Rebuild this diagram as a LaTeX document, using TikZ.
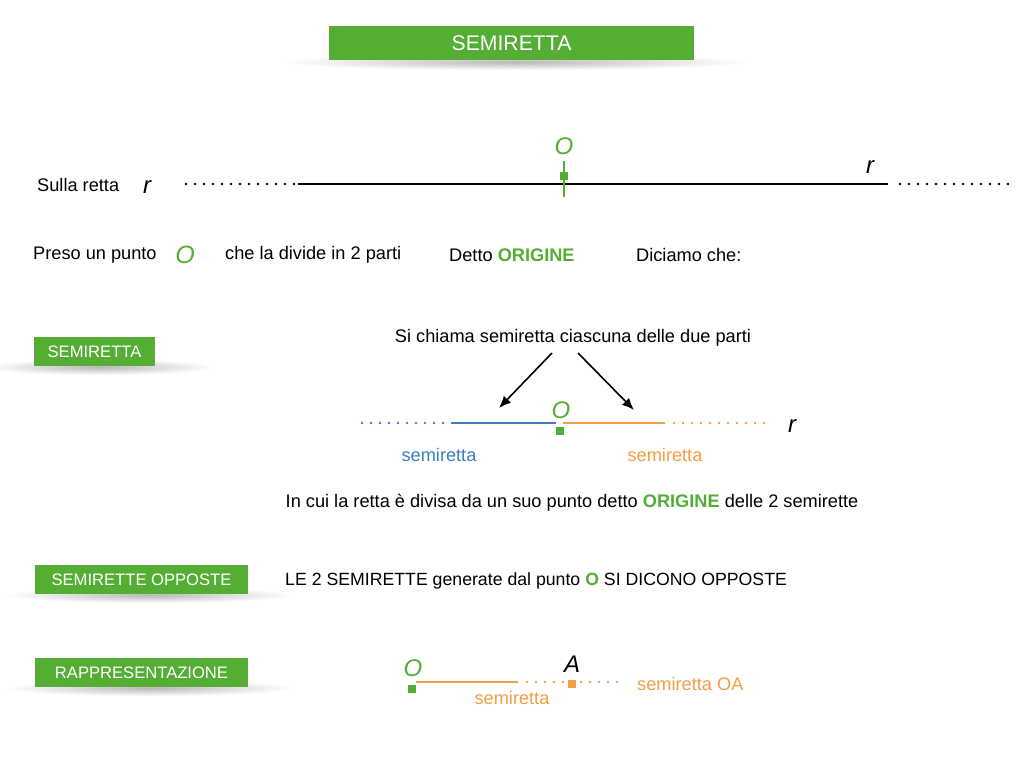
\documentclass[tikz,border=0pt]{standalone}
\usepackage{fontspec}
\setmainfont{Liberation Sans}
\usetikzlibrary{arrows.meta}
\definecolor{vgreen}{RGB}{84,174,52}
\definecolor{vblue}{RGB}{61,125,195}
\definecolor{vorange}{RGB}{242,158,66}
\tikzset{
  txt/.style={inner sep=0pt, font=\fontsize{18.2}{21}\selectfont},
  gbox/.style={fill=vgreen, text=white, inner sep=0pt, font=\fontsize{16.6}{19}\selectfont},
  varr/.style={font=\fontsize{24}{28}\selectfont\itshape, inner sep=0pt},
  dots/.style={line width=2.6pt, line cap=round, dash pattern=on 0pt off 9pt},
  seg/.style={line width=1.8pt},
  sq/.style={fill, minimum size=7.5pt, inner sep=0pt},
  arr/.style={line width=1.6pt, -{Latex[length=12pt,width=10pt]}},
}
\newcommand{\gshadow}[3]{\shade[inner color=black!28, outer color=white] (#1,#2) ellipse ({#3} and 8);}
\begin{document}
\begin{tikzpicture}[x=1pt,y=-1pt]
\useasboundingbox (0,0) rectangle (1024,768);
\fill[white] (0,0) rectangle (1024,768);

% title
\gshadow{515}{62}{235}
\node[gbox, minimum width=365pt, minimum height=34pt, font=\fontsize{21.2}{25}\selectfont] (title) at (511.5,43) {SEMIRETTA};

% line r
\node[txt, anchor=west] (sulla) at (37,185) {Sulla retta};
\node[varr] (r1) at (147,187) {r};
\coordinate (d1a) at (186,184);
\coordinate (d1b) at (298,184);
\coordinate (l1b) at (888,184);
\coordinate (d2a) at (900,184);
\coordinate (d2b) at (1010,184);
\draw[dots] (d1a) -- (d1b);
\draw[line width=1.8pt] (d1b) -- (l1b);
\draw[dots] (d2a) -- (d2b);
\coordinate (tkA) at (564,161);
\coordinate (tkB) at (564,197);
\draw[vgreen, line width=1.8pt] (tkA) -- (tkB);
\node[sq, vgreen] (o1sq) at (564,176) {};
\node[varr, text=vgreen] (o1) at (564,146) {O};
\node[varr] (r2) at (870,167) {r};

% row 2
\node[txt, anchor=west] (preso) at (33,255) {Preso un punto};
\node[varr, text=vgreen, font=\fontsize{25}{29}\selectfont\itshape] (o2) at (185,255) {O};
\node[txt, anchor=west] (che) at (225,255) {che la divide in 2 parti};
\node[txt, anchor=west] (detto) at (449,255) {Detto \textbf{\color{vgreen}ORIGINE}};
\node[txt, anchor=west] (diciamo) at (636,255) {Diciamo che:};

% SEMIRETTA box
\gshadow{100}{367}{115}
\node[gbox, minimum width=121pt, minimum height=29pt] (b1) at (94.5,351.5) {SEMIRETTA};
\node[txt] (sichiama) at (573,338) {Si chiama semiretta ciascuna delle due parti};
\coordinate (a1s) at (552,353);
\coordinate (a1e) at (499,408);
\coordinate (a2s) at (578,353);
\coordinate (a2e) at (634,410);
\draw[arr] (a1s) -- (a1e);
\draw[arr] (a2s) -- (a2e);

% two half lines
\coordinate (bl1) at (362,423);
\coordinate (bl2) at (452,423);
\coordinate (bl3) at (556,423);
\coordinate (or1) at (563,423);
\coordinate (or2) at (665,423);
\coordinate (or3) at (674,423);
\coordinate (or4) at (766,423);
\draw[dots, vblue] (bl1) -- (bl2);
\draw[seg, vblue] (bl2) -- (bl3);
\draw[seg, vorange] (or1) -- (or2);
\draw[dots, vorange] (or3) -- (or4);
\node[sq, vgreen] (o3sq) at (560,431) {};
\node[varr, text=vgreen] (o3) at (561,410) {O};
\node[varr] (r3) at (792,426) {r};
\node[txt, text=vblue] (s1) at (439,455) {semiretta};
\node[txt, text=vorange] (s2) at (665,455) {semiretta};
\node[txt] (incui) at (572,503) {In cui la retta è divisa da un suo punto detto \textbf{\color{vgreen}ORIGINE} delle 2 semirette};

% SEMIRETTE OPPOSTE
\gshadow{150}{595}{145}
\node[gbox, minimum width=213pt, minimum height=29pt] (b2) at (141.5,579.5) {SEMIRETTE OPPOSTE};
\node[txt, anchor=west, font=\fontsize{17.7}{21}\selectfont] (le2) at (285,581) {LE 2 SEMIRETTE generate dal punto \textbf{\color{vgreen}O} SI DICONO OPPOSTE};

% RAPPRESENTAZIONE
\gshadow{150}{688}{145}
\node[gbox, minimum width=213pt, minimum height=29pt] (b3) at (141.5,672.5) {RAPPRESENTAZIONE};
\node[varr, text=vgreen] (o4) at (413,668) {O};
\node[sq, vgreen] (o4sq) at (412,689) {};
\coordinate (p1) at (416,682);
\coordinate (p2) at (518,682);
\coordinate (p3) at (527,682);
\coordinate (p4) at (620,682);
\draw[seg, vorange] (p1) -- (p2);
\draw[dots, vorange] (p3) -- (p4);
\node[sq, vorange] (asq) at (572,684) {};
\node[varr] (a) at (572,664) {A};
\node[txt, text=vorange] (s3) at (512,698) {semiretta};
\node[txt, text=vorange, anchor=west] (s4) at (637,684) {semiretta OA};
\end{tikzpicture}
\end{document}
